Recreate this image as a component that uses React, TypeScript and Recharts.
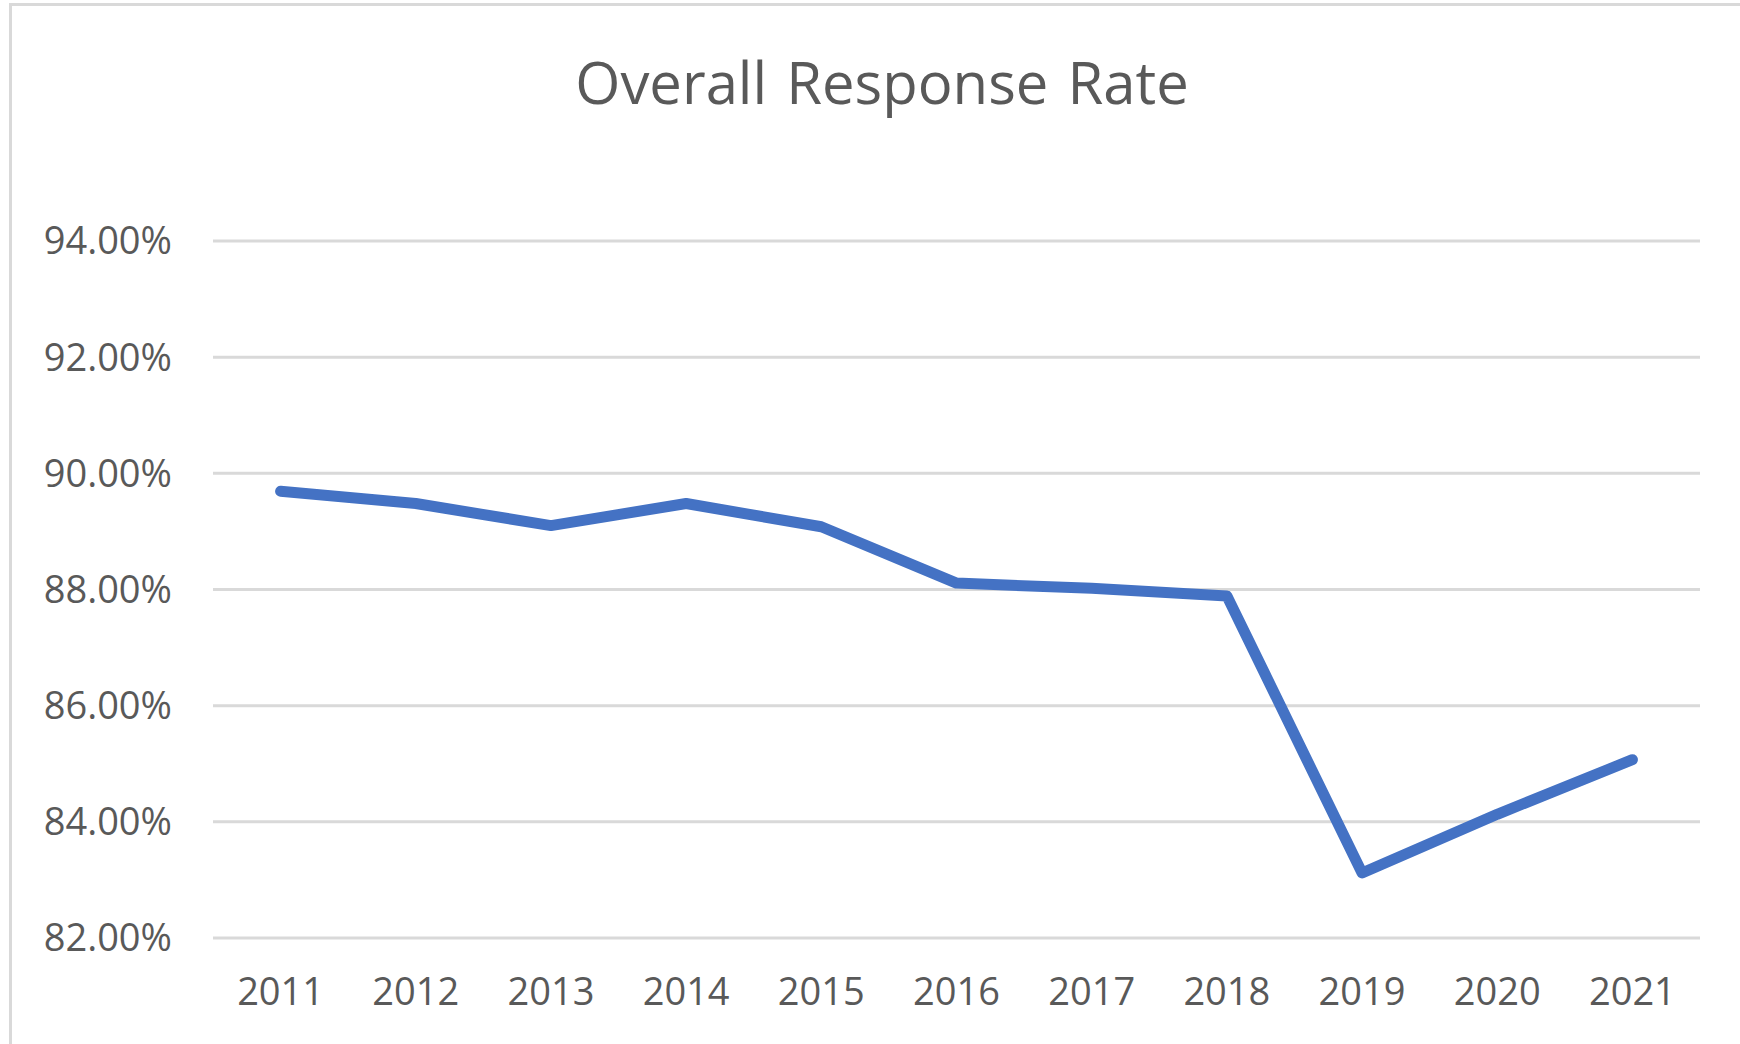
import { LineChart, Line, XAxis, YAxis, CartesianGrid } from 'recharts';

// Overall response rate by survey year (percent)
const YEARS = ['2011', '2012', '2013', '2014', '2015', '2016', '2017', '2018', '2019', '2020', '2021'];
const RESPONSE_RATE = [89.69, 89.48, 89.1, 89.48, 89.08, 88.11, 88.02, 87.89, 83.12, 84.13, 85.07];
const Y_TICKS = [82, 84, 86, 88, 90, 92, 94];

const TEXT_COLOR = '#595959';
const GRID_COLOR = '#d9d9d9';
const LINE_COLOR = '#4472c4';
const FONT = '"Open Sans", sans-serif';

const data = YEARS.map((year, i) => ({ year, rate: RESPONSE_RATE[i] }));

export default function App() {
  return (
    <div
      style={{
        position: 'absolute',
        left: 0,
        top: 0,
        width: 1740,
        height: 1044,
        background: '#fff',
        overflow: 'hidden',
      }}
    >
      {/* chart frame, only top and left edges are in view */}
      <div
        style={{
          position: 'absolute',
          left: 9,
          top: 3,
          width: 1800,
          height: 1100,
          borderLeft: `3px solid ${GRID_COLOR}`,
          borderTop: `3px solid ${GRID_COLOR}`,
        }}
      />
      <div
        style={{
          position: 'absolute',
          left: 882,
          top: 53,
          transform: 'translateX(-50%)',
          fontFamily: FONT,
          fontSize: 58,
          lineHeight: 1,
          color: TEXT_COLOR,
          whiteSpace: 'pre',
          wordSpacing: 4,
        }}
      >
        Overall Response Rate
      </div>
      <div style={{ position: 'absolute', left: 0, top: 0 }}>
        <LineChart width={1740} height={1044} data={data} margin={{ top: 241, right: 40, bottom: 0, left: 0 }}>
          <CartesianGrid vertical={false} stroke={GRID_COLOR} strokeWidth={3} />
          <XAxis
            dataKey="year"
            axisLine={false}
            tickLine={false}
            tickSize={0}
            tickMargin={40}
            height={106}
            padding={{ left: 67.6, right: 67.6 }}
            interval={0}
            tick={{ fill: TEXT_COLOR, fontSize: 38, fontFamily: FONT }}
          />
          <YAxis
            domain={[82, 94]}
            ticks={Y_TICKS}
            axisLine={false}
            tickLine={false}
            tickSize={0}
            tickMargin={41}
            width={213}
            interval={0}
            tickFormatter={(v: number) => `${v.toFixed(2)}%`}
            tick={{ fill: TEXT_COLOR, fontSize: 38, fontFamily: FONT }}
          />
          <Line
            type="linear"
            dataKey="rate"
            stroke={LINE_COLOR}
            strokeWidth={11}
            strokeLinecap="round"
            strokeLinejoin="round"
            dot={false}
            activeDot={false}
            isAnimationActive={false}
          />
        </LineChart>
      </div>
    </div>
  );
}
